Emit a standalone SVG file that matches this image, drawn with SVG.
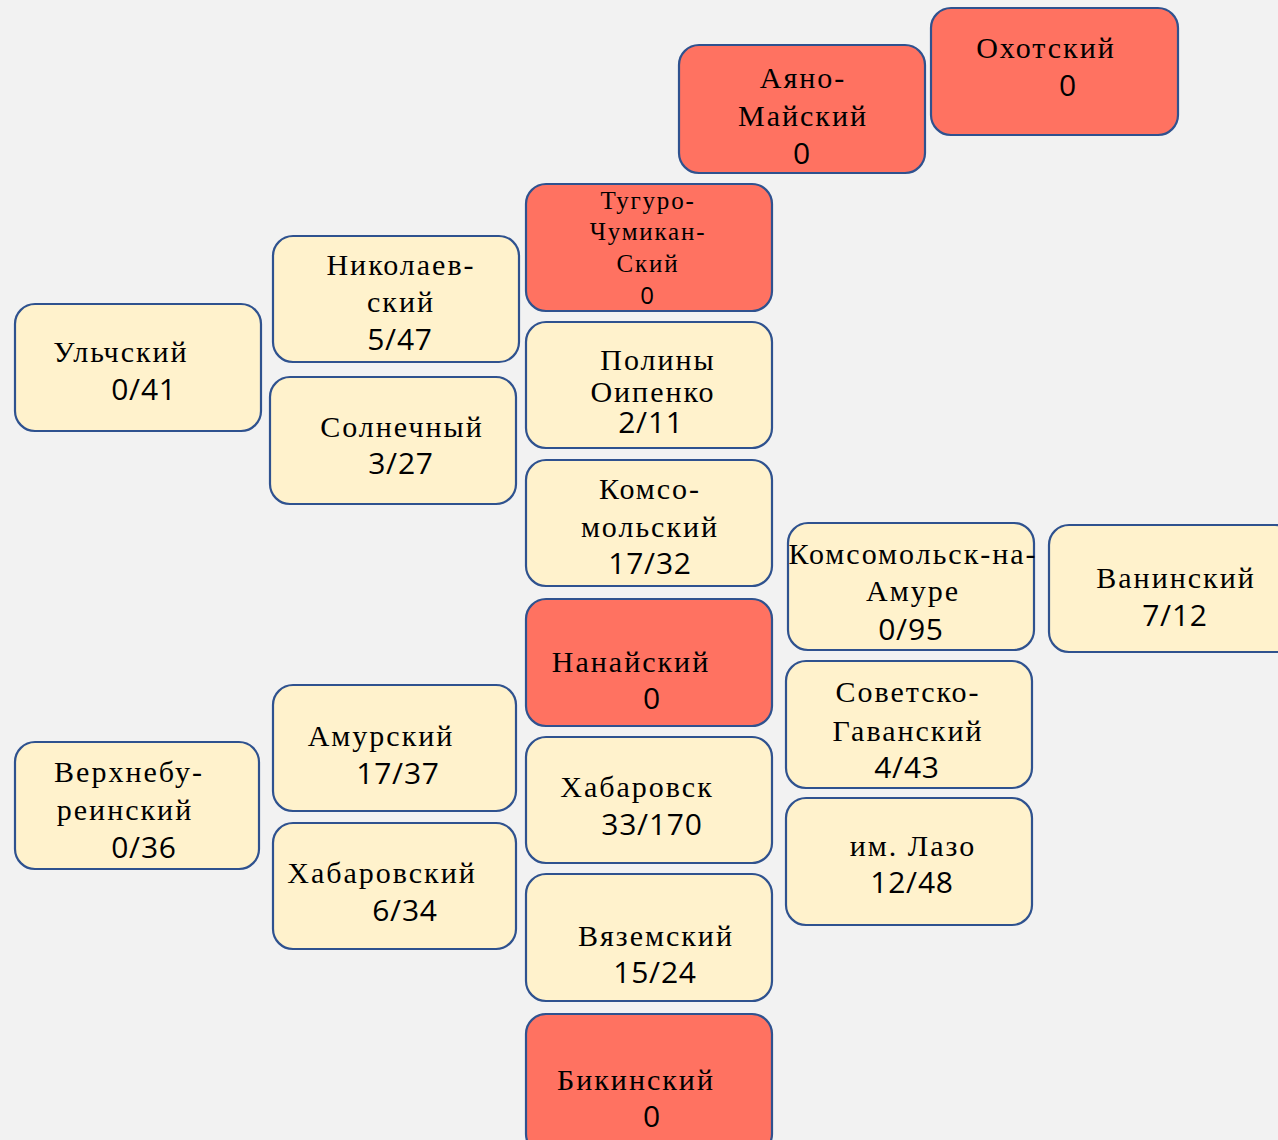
<svg xmlns="http://www.w3.org/2000/svg" width="1278" height="1140" viewBox="0 0 1278 1140">
<style>
.bg{fill:#f2f2f2}
.c{fill:#fff2cc;stroke:#2f528f;stroke-width:2.2}
.r{fill:#ff7261;stroke:#2f528f;stroke-width:2.2}
text{fill:#000;text-anchor:middle}
.t{font-family:"Liberation Serif","DejaVu Serif",serif;font-size:30px;letter-spacing:2px}
.s{font-family:"Liberation Serif","DejaVu Serif",serif;font-size:25px;letter-spacing:1.8px}
.n{font-family:"Open Sans","Liberation Sans",sans-serif;font-size:30px;letter-spacing:0.8px}
.ns{font-family:"Open Sans","Liberation Sans",sans-serif;font-size:24px}
</style>
<rect class="bg" x="0" y="0" width="1278" height="1140"/>
<g id="connectors"></g>
<g id="ayano"><rect class="r" x="679" y="45" width="246" height="128" rx="20"/><text class="t" x="803" y="88">Аяно-</text><text class="t" x="803" y="126">Майский</text><text class="n" x="802" y="164">0</text></g>
<g id="okhotsk"><rect class="r" x="931" y="8" width="247" height="127" rx="20"/><text class="t" x="1046" y="58">Охотский</text><text class="n" x="1068" y="96">0</text></g>
<g id="tuguro"><rect class="r" x="526" y="184" width="246" height="127" rx="20"/><text class="s" x="648" y="209">Тугуро-</text><text class="s" x="648" y="240">Чумикан-</text><text class="s" x="648" y="272">Ский</text><text class="ns" x="647" y="304">0</text></g>
<g id="nikolaev"><rect class="c" x="273" y="236" width="246" height="126" rx="20"/><text class="t" x="401" y="275">Николаев-</text><text class="t" x="401" y="312">ский</text><text class="n" x="400" y="350">5/47</text></g>
<g id="ulch"><rect class="c" x="15" y="304" width="246" height="127" rx="20"/><text class="t" x="121" y="362">Ульчский</text><text class="n" x="144" y="400">0/41</text></g>
<g id="solnech"><rect class="c" x="270" y="377" width="246" height="127" rx="20"/><text class="t" x="402" y="437">Солнечный</text><text class="n" x="401" y="474">3/27</text></g>
<g id="osipenko"><rect class="c" x="526" y="322" width="246" height="126" rx="20"/><text class="t" x="658" y="370">Полины</text><text class="t" x="653" y="402">Оипенко</text><text class="n" x="651" y="433">2/11</text></g>
<g id="komsomolsky"><rect class="c" x="526" y="460" width="246" height="126" rx="20"/><text class="t" x="650" y="499">Комсо-</text><text class="t" x="650" y="537">мольский</text><text class="n" x="650" y="574">17/32</text></g>
<g id="kna"><rect class="c" x="788" y="523" width="246" height="127" rx="20"/><text class="t" x="913" y="564">Комсомольск-на-</text><text class="t" x="913" y="601">Амуре</text><text class="n" x="911" y="640">0/95</text></g>
<g id="vanino"><rect class="c" x="1049" y="525" width="246" height="127" rx="20"/><text class="t" x="1176" y="588">Ванинский</text><text class="n" x="1175" y="626">7/12</text></g>
<g id="nanai"><rect class="r" x="526" y="599" width="246" height="127" rx="20"/><text class="t" x="631" y="672">Нанайский</text><text class="n" x="652" y="709">0</text></g>
<g id="sovgavan"><rect class="c" x="786" y="661" width="246" height="127" rx="20"/><text class="t" x="908" y="702">Советско-</text><text class="t" x="908" y="741">Гаванский</text><text class="n" x="907" y="778">4/43</text></g>
<g id="amursky"><rect class="c" x="273" y="685" width="243" height="126" rx="20"/><text class="t" x="381" y="746">Амурский</text><text class="n" x="398" y="784">17/37</text></g>
<g id="verkhnebur"><rect class="c" x="15" y="742" width="244" height="127" rx="20"/><text class="t" x="129" y="782">Верхнебу-</text><text class="t" x="125" y="820">реинский</text><text class="n" x="144" y="858">0/36</text></g>
<g id="khabarovsk"><rect class="c" x="526" y="737" width="246" height="126" rx="20"/><text class="t" x="637" y="797">Хабаровск</text><text class="n" x="652" y="835">33/170</text></g>
<g id="lazo"><rect class="c" x="786" y="798" width="246" height="127" rx="20"/><text class="t" x="913" y="856">им. Лазо</text><text class="n" x="912" y="893">12/48</text></g>
<g id="khabarovsky"><rect class="c" x="273" y="823" width="243" height="126" rx="20"/><text class="t" x="382" y="883">Хабаровский</text><text class="n" x="405" y="921">6/34</text></g>
<g id="vyazemsky"><rect class="c" x="526" y="874" width="246" height="127" rx="20"/><text class="t" x="656" y="946">Вяземский</text><text class="n" x="655" y="983">15/24</text></g>
<g id="bikin"><rect class="r" x="526" y="1014" width="246" height="140" rx="20"/><text class="t" x="636" y="1090">Бикинский</text><text class="n" x="652" y="1127">0</text></g>
</svg>
